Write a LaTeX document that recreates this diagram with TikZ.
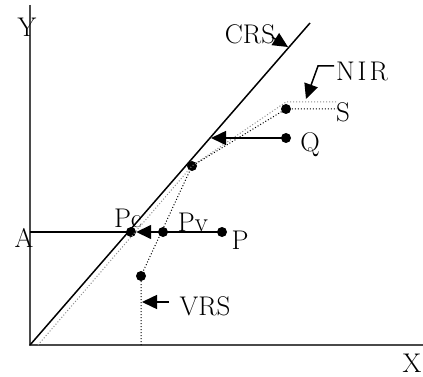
\documentclass[tikz,border=0pt]{standalone}
\usepackage{tikz}
\usepackage{xcolor}
\usetikzlibrary{arrows.meta}
\definecolor{axisgray}{HTML}{4A4A4A}
\definecolor{nirgray}{HTML}{8C8C8C}
\tikzset{
  % Axes and frontiers
  axis/.style={draw=axisgray, line width=1.3pt},
  crs/.style={draw=black, line width=1.5pt},
  vrs/.style={draw=black, dotted, line width=1pt},
  nir/.style={draw=nirgray, dotted, line width=1pt},
  % Firms
  firm/.style={circle, fill=black, inner sep=0pt, minimum size=10pt},
  % Arrows
  arr/.style={-{Triangle[length=15pt, width=14pt]}, line width=1.5pt},
  % Labels
  lbl/.style={font=\fontsize{27}{32}\selectfont, inner sep=0pt,
              text height=18pt, text depth=0pt},
}

\begin{document}
\begin{tikzpicture}[x=1pt, y=-1pt]
  \useasboundingbox (0,0) rectangle (423,377);
  % axes
  \coordinate (O) at (30,345);
  \coordinate (ytop) at (30,5);
  \coordinate (xend) at (423,345);
  \draw[axis] (ytop) -- (O) -- (xend);
  \node[lbl] (ylbl) at (27,28) {Y};
  \node[lbl] (xlbl) at (412,363) {X};

  % frontiers
  \coordinate (crstop) at (310,23);
  \coordinate (vbase) at (141,345);
  \coordinate (nbase) at (38,345);
  \coordinate (send) at (337,109);
  \coordinate (ncorner) at (286,102);
  \coordinate (nend) at (337,102);
  \coordinate (yA) at (30,232);
  \coordinate (qhit) at (211,138);

  \node[firm] (V) at (141,276) {};
  \node[firm] (M) at (192,166) {};
  \node[firm] (S) at (286,109) {};
  \node[firm] (Q) at (286,138) {};
  \node[firm] (P) at (222,232) {};
  \node[firm] (Pv) at (163,232) {};
  \node[firm] (Pc) at (131,232) {};

  \draw[crs] (O) -- (crstop);
  \draw[nir] (nbase) -- (M.center) -- (ncorner) -- (nend);
  \draw[vrs] (vbase) -- (V.center) -- (M.center) -- (S.center) -- (send);

  % projections
  \draw[crs] (yA) -- (Pc.center);
  \draw[arr] (P.center) -- (Pc.east);
  \draw[arr] (Q.center) -- (qhit);

  % labels
  \node[lbl] (A) at (24,238) {A};
  \node[lbl] (Pclbl) at (128,218) {Pc};
  \node[lbl] (Pvlbl) at (193,222) {Pv};
  \node[lbl] (Plbl) at (240,240) {P};
  \node[lbl] (Qlbl) at (310,142) {Q};
  \node[lbl] (Slbl) at (343,113) {S};
  \node[lbl] (crslbl) at (250,35) {CRS};
  \node[lbl] (nirlbl) at (362,72) {N\hspace{3pt}I\hspace{3pt}R};
  \node[lbl] (vrslbl) at (205,306) {VRS};

  % pointers
  \coordinate (crsfrom) at (272,37);
  \coordinate (crsto) at (288,47);
  \draw[arr] (crsfrom) -- (crsto);
  \coordinate (nira) at (334,66);
  \coordinate (nirb) at (318,66);
  \coordinate (nirto) at (306,99);
  \draw[arr] (nira) -- (nirb) -- (nirto);
  \coordinate (vrsfrom) at (169,302);
  \coordinate (vrsto) at (142,302);
  \draw[arr] (vrsfrom) -- (vrsto);
\end{tikzpicture}
\end{document}
